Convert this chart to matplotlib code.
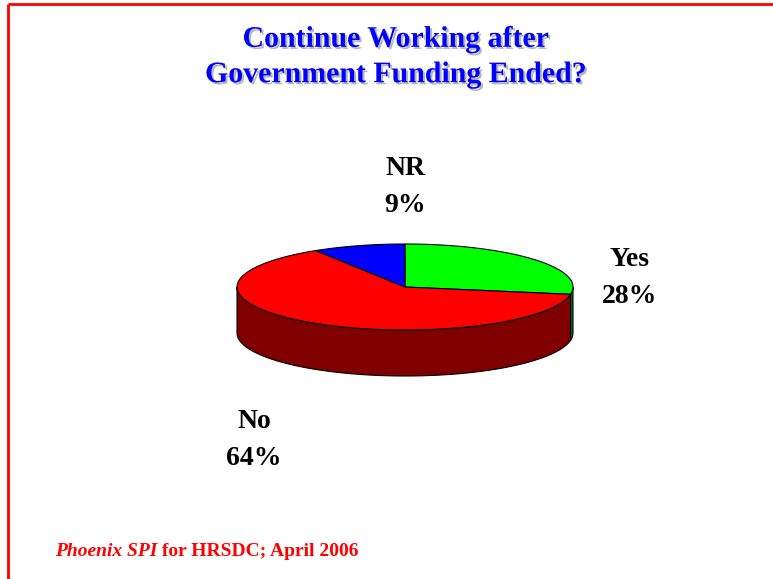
import numpy as np
import matplotlib
matplotlib.use("Agg")
import matplotlib.pyplot as plt
import matplotlib.patheffects as pe
from matplotlib.patches import Polygon

# Survey answers, clockwise from 12 o'clock
labels = ["Yes", "No", "NR"]
values = [28, 64, 9]
top_colors = ["#00ff00", "#ff0000", "#0000ff"]
side_colors = ["#008000", "#800000", "#000080"]

title = "Continue Working after\nGovernment Funding Ended?"
label_pos = [(630, 278), (254, 440), (405, 187)]

W, H = 773, 579
fig = plt.figure(figsize=(W / 100, H / 100), dpi=100)
ax = fig.add_axes([0, 0, 1, 1])
ax.set_xlim(0, W)
ax.set_ylim(H, 0)
ax.axis("off")

# red slide frame (only top and left edges are on the page)
ax.plot([7.5, W], [4, 4], color="red", lw=2.0, solid_capstyle="butt")
ax.plot([7.5, 7.5], [4, H], color="red", lw=2.0, solid_capstyle="butt")

# 3D pie geometry, pixel units
cx, cy = 405, 287
rx, ry = 168, 43
depth = 46


def ellipse_pts(a0, a1, dy=0, n=200):
    t = np.radians(np.linspace(a0, a1, n))
    return np.column_stack([cx + rx * np.cos(t), cy + dy - ry * np.sin(t)])


total = sum(values)
angles = [90]
for v in values:
    angles.append(angles[-1] - v / total * 360)

# side walls first: only the front half (angles between -180 and 0) is seen
for i in range(len(values)):
    a_hi, a_lo = angles[i], angles[i + 1]
    for k in (-1, 0, 1):
        lo = max(a_lo, -180 + 360 * k)
        hi = min(a_hi, 0 + 360 * k)
        if hi - lo <= 0:
            continue
        top = ellipse_pts(lo, hi)
        bot = ellipse_pts(hi, lo, dy=depth)
        ax.add_patch(Polygon(np.vstack([top, bot]), closed=True,
                             facecolor=side_colors[i], edgecolor="black", lw=0.8))

# top face wedges
for i in range(len(values)):
    arc = ellipse_pts(angles[i], angles[i + 1])
    pts = np.vstack([[cx, cy], arc])
    ax.add_patch(Polygon(pts, closed=True, facecolor=top_colors[i],
                         edgecolor="black", lw=0.8))

serif = ["Liberation Serif", "DejaVu Serif"]

for lab, v, (x, y) in zip(labels, values, label_pos):
    ax.text(x, y, f"{lab}\n{v}%", ha="center", va="center", fontsize=20,
            fontweight="bold", family=serif, linespacing=1.65)

ax.text(396, 57, title, ha="center", va="center", fontsize=21.5,
        fontweight="bold", family=serif, color="#0000ff", linespacing=1.4,
        path_effects=[pe.SimplePatchShadow(offset=(1.5, -1.5), shadow_rgbFace="#999999", alpha=0.7),
                      pe.Normal()])

# footer: italic company name followed by upright text
t1 = ax.text(55, 551, "Phoenix SPI", ha="left", va="center", fontsize=14,
             fontweight="bold", style="italic", family=serif, color="red")
fig.canvas.draw()
bb = t1.get_window_extent().transformed(ax.transData.inverted())
ax.text(bb.x1, 551, " for HRSDC; April 2006", ha="left", va="center",
        fontsize=14, fontweight="bold", family=serif, color="red")

fig.savefig("out.png", dpi=100)
